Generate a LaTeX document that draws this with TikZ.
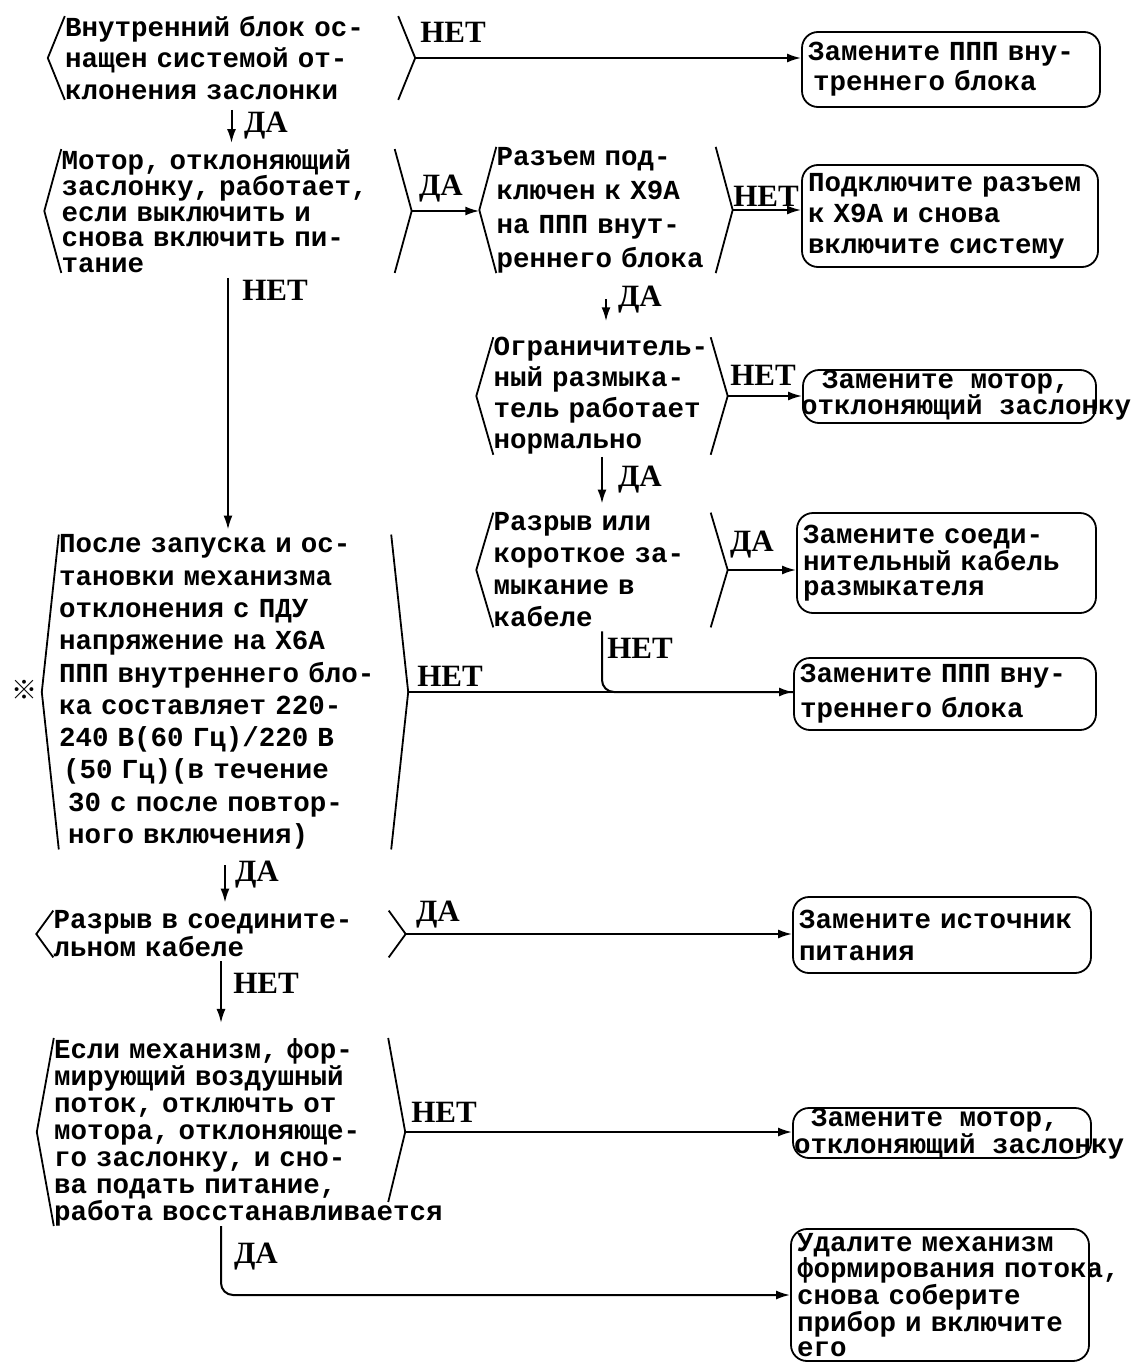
\documentclass[tikz,border=0pt]{standalone}
\usepackage{fontspec}
\setmonofont{Liberation Mono}
\newfontfamily\lblfont{Liberation Serif}
\newfontfamily\cjkfont{Noto Sans CJK JP}
\usetikzlibrary{arrows.meta,calc}

\newcommand{\txtfont}[1]{\fontsize{27.5pt}{#1pt}\selectfont\ttfamily\bfseries}
\newcommand{\brk}[2][0pt]{%
  \draw[br] (#2.north west) -- ([xshift=-17pt]#2.west) coordinate (#2-l) -- (#2.south west);
  \draw[br] (#2.north east) -- ([xshift=17pt]#2.east) coordinate (#2-r) -- ([yshift=#1]#2.south east);}

\tikzset{
  dec/.style={font=\txtfont{#1}, align=left, inner sep=0pt},
  res/.style={draw, line width=1.8pt, rounded corners=16pt, font=\txtfont{#1}, align=left, inner xsep=6pt, inner ysep=0pt},
  pill/.style={draw, line width=1.8pt, rounded corners=16pt, inner sep=0pt},
  br/.style={line width=1.8pt},
  arr/.style={line width=2pt, -{Latex[length=14pt,width=9pt]}},
  lbl/.style={font=\fontsize{31pt}{31pt}\selectfont\lblfont\bfseries, inner sep=0pt},
}

\begin{document}
\begin{tikzpicture}[x=1pt,y=-1pt]
    \useasboundingbox (0,0) rectangle (1135,1362);

    \node[dec=31.5, text width=333pt] (d1) at (231.5,58) {Внутренний блок ос-\\нащен системой от-\\клонения заслонки};
    \node[dec=25.5, text width=333pt] (d2) at (228,211) {Мотор, отклоняющий\\заслонку, работает,\\если выключить и\\снова включить пи-\\тание};
    \node[dec=34, text width=219pt] (d3) at (606,210) {Разъем под-\\ключен к Х9А\\на ППП внут-\\реннего блока};
    \node[dec=31, text width=217pt] (d4) at (602,396) {Ограничитель-\\ный размыка-\\тель работает\\нормально};
    \node[dec=32, text width=217pt] (d5) at (602,570) {Разрыв или\\короткое за-\\мыкание в\\кабеле};
    \node[dec=32.3, text width=332pt] (d6) at (225,692) {После запуска и ос-\\тановки механизма\\отклонения с ПДУ\\напряжение на Х6А\\ППП внутреннего бло-\\ка составляет 220-\\240 В(60 Гц)/220 В\\\hspace*{4pt}(50 Гц)(в течение\\\hspace*{9pt}30 с после повтор-\\\hspace*{9pt}ного включения)};
    \node[dec=28, text width=335pt] (d7) at (221,934) {Разрыв в соедините-\\льном кабеле};
    \node[dec=27, text width=334pt] (d8) at (221,1132) {Если механизм, фор-\\мирующий воздушный\\поток, отключть от\\мотора, отклоняюще-\\го заслонку, и сно-\\ва подать питание,\\\mbox{работа восстанавливается}};

    \node[res=30, text width=286pt, minimum height=75pt] (r1) at (951,69.5) {Замените ППП вну-\\\hspace*{5pt}треннего блока};
    \node[res=31, text width=284pt, minimum height=102pt] (r2) at (950,216) {Подключите разъем\\к Х9А и снова\\включите систему};
    \node[pill, minimum width=293pt, minimum height=53pt] (r3) at (949.5,396.5) {};
    \node[dec=21, anchor=west] (r3t) at (801,395) {\hspace*{21pt}Замените мотор,\\отклоняющий заслонку};
    \node[res=25, text width=287pt, minimum height=100pt] (r4) at (946.5,563) {Замените соеди-\\нительный кабель\\размыкателя};
    \node[res=35, text width=290pt, minimum height=72pt] (r5) at (945,694) {Замените ППП вну-\\треннего блока};
    \node[res=32, text width=286pt, minimum height=76pt] (r6) at (942,935) {Замените источник\\питания};
    \node[pill, minimum width=298pt, minimum height=50pt] (r7) at (942,1133) {};
    \node[dec=23, anchor=west] (r7t) at (794,1133.5) {\hspace*{17pt}Замените мотор,\\отклоняющий заслонку};
    \node[res=25, text width=286pt, minimum height=132pt] (r8) at (940,1295) {Удалите механизм\\\mbox{формирования потока,}\\снова соберите\\прибор и включите\\его};

    \brk{d1} \brk{d2} \brk{d3} \brk{d4}
    \brk{d5} \brk{d6} \brk{d7} \brk[24pt]{d8}

    \draw[arr] (d1-r) -- (d1-r -| r1.west);
    \draw[arr, shorten <=10pt, shorten >=6pt] (d1.south) -- (d1.south |- d2.north);
    \draw[arr] (d2-r) -- (d2-r -| d3-l);
    \draw[arr, shorten <=5pt, shorten >=5pt] (d2.south) -- (d2.south |- d6.north);
    \draw[arr] (d3-r) -- (d3-r -| r2.west);
    \draw[arr, shorten <=26pt, shorten >=16pt] (d3.south) -- (d3.south |- d4.north);
    \draw[arr] (d4-r) -- (d4-r -| r3.west);
    \draw[arr, shorten <=2pt, shorten >=9pt] (d4.south) -- (d4.south |- d5.north);
    \draw[arr] (d5-r) -- (d5-r -| r4.west);
    \draw[line width=2pt, rounded corners=12pt, shorten <=4pt] (d5.south) |- (d6-r -| r5.west);
    \draw[arr] (d6-r) -- (d6-r -| r5.west);
    \draw[arr, shorten <=16pt, shorten >=8pt] (d6.south) -- (d6.south |- d7.north);
    \draw[arr] (d7-r) -- (d7-r -| r6.west);
    \draw[arr, shorten <=4pt, shorten >=15pt] (d7.south) -- (d7.south |- d8.north);
    \draw[arr] (d8-r) -- (d8-r -| r7.west);
    \draw[arr, rounded corners=12pt] (d8.south) |- (r8.west);

    \node[lbl] (n1) at (453,32) {НЕТ};
    \node[lbl] (n2) at (266,126) {ДА};
    \node[lbl] (n3) at (441,189) {ДА};
    \node[lbl] (n4) at (275,290) {НЕТ};
    \node[lbl] (n5) at (766,196) {НЕТ};
    \node[lbl] (n6) at (640,300) {ДА};
    \node[lbl] (n7) at (763,375) {НЕТ};
    \node[lbl] (n8) at (640,480) {ДА};
    \node[lbl] (n9) at (752,545) {ДА};
    \node[lbl] (n10) at (640,648) {НЕТ};
    \node[lbl] (n11) at (450,676) {НЕТ};
    \node[lbl] (n12) at (257,875) {ДА};
    \node[lbl] (n13) at (438,915) {ДА};
    \node[lbl] (n14) at (266,983) {НЕТ};
    \node[lbl] (n15) at (444,1112) {НЕТ};
    \node[lbl] (n16) at (256,1257) {ДА};
    \node[font=\fontsize{26pt}{26pt}\selectfont\cjkfont, inner sep=0pt] (mark) at (25,690) {※};
\end{tikzpicture}
\end{document}
